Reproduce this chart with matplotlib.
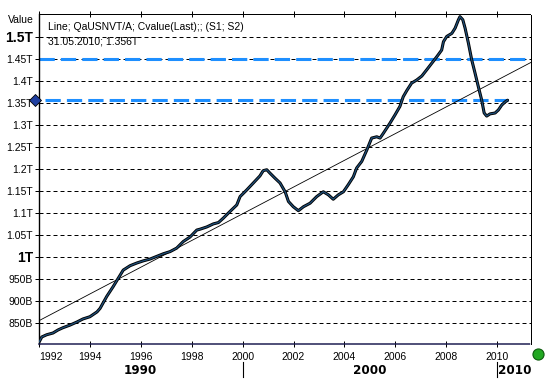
import matplotlib
matplotlib.use("Agg")
import matplotlib.pyplot as plt
import matplotlib.transforms as mtransforms

# ---- data (values in trillions) ----
dates = [1992.01, 1992.11, 1992.30, 1992.55, 1992.75, 1992.94, 1993.22, 1993.49, 1993.73,
         1994.00, 1994.28, 1994.40, 1994.66, 1994.92, 1995.12, 1995.31, 1995.58, 1995.84,
         1996.10, 1996.36, 1996.62, 1996.88, 1997.15, 1997.41, 1997.67, 1997.93, 1998.20,
         1998.33, 1998.59, 1998.85, 1999.05, 1999.24, 1999.50, 1999.77, 1999.90, 2000.16,
         2000.42, 2000.68, 2000.81, 2000.95, 2001.08, 2001.27, 2001.47, 2001.67, 2001.80,
         2001.99, 2002.19, 2002.39, 2002.65, 2002.91, 2003.17, 2003.37, 2003.56, 2003.76,
         2003.96, 2004.15, 2004.35, 2004.48, 2004.68, 2004.88, 2005.07, 2005.27, 2005.40,
         2005.53, 2005.79, 2005.99, 2006.18, 2006.31, 2006.45, 2006.64, 2006.84, 2007.04,
         2007.23, 2007.43, 2007.63, 2007.82, 2007.89, 2008.02, 2008.22, 2008.35, 2008.48,
         2008.54, 2008.65, 2008.74, 2008.87, 2009.00, 2009.13, 2009.26, 2009.39, 2009.49,
         2009.59, 2009.72, 2009.92, 2010.05, 2010.18, 2010.31, 2010.41]
values = [0.807, 0.818, 0.823, 0.827, 0.834, 0.839, 0.845, 0.852, 0.859,
          0.864, 0.875, 0.883, 0.910, 0.933, 0.952, 0.970, 0.980, 0.986,
          0.991, 0.995, 1.001, 1.007, 1.012, 1.020, 1.035, 1.045, 1.061,
          1.063, 1.068, 1.075, 1.078, 1.088, 1.103, 1.118, 1.137, 1.152,
          1.168, 1.184, 1.196, 1.198, 1.190, 1.179, 1.168, 1.148, 1.126,
          1.114, 1.105, 1.114, 1.122, 1.137, 1.148, 1.141, 1.131, 1.141,
          1.148, 1.164, 1.182, 1.202, 1.217, 1.243, 1.270, 1.273, 1.270,
          1.281, 1.304, 1.323, 1.342, 1.364, 1.378, 1.395, 1.402, 1.411,
          1.425, 1.440, 1.455, 1.470, 1.489, 1.501, 1.508, 1.520, 1.539,
          1.546, 1.539, 1.520, 1.486, 1.448, 1.418, 1.387, 1.357, 1.327,
          1.320, 1.325, 1.327, 1.334, 1.345, 1.352, 1.356]

trend_x = [1992.0, 2011.33]
trend_y = [0.855, 1.442]

ref_level = 1.45
last_value = 1.356
last_date = 2010.41

y_ticks = [0.85, 0.90, 0.95, 1.00, 1.05, 1.10, 1.15, 1.20, 1.25, 1.30, 1.35, 1.40, 1.45, 1.50]
y_labels = ['850B', '900B', '950B', '1T', '1.05T', '1.1T', '1.15T', '1.2T', '1.25T',
            '1.3T', '1.35T', '1.4T', '1.45T', '1.5T']
x_ticks = [1992, 1994, 1996, 1998, 2000, 2002, 2004, 2006, 2008, 2010]
x_labels = ['1992', '1994', '1996', '1998', '2000', '2002', '2004', '2006', '2008', '2010']
decades = ['1990', '2000', '2010']
decade_starts = [1992, 2000, 2010]
decade_ends = [2000, 2010, 2011.33]

legend_line1 = "Line; QaUSNVT/A; Cvalue(Last);; (S1; S2)"
legend_line2 = "31.05.2010; 1.356T"

W, H = 548, 385
fig = plt.figure(figsize=(W / 100, H / 100), dpi=100)
fig.patch.set_facecolor('white')
L, R, T, B = 39, 531, 14, 344
ax = fig.add_axes([L / W, 1 - B / H, (R - L) / W, (B - T) / H])
ax.set_xlim(1992.0, 2011.33)
ax.set_ylim(0.802, 1.552)

px = 0.72  # one pixel in points

# grid
for v in y_ticks:
    ax.axhline(v, color='black', lw=px, ls=(0, (4, 3)), zorder=1)

# reference lines
ax.axhline(ref_level, color='#1e8fff', lw=2.2, ls=(0, (5, 2)), zorder=2)
ax.hlines(last_value, ax.get_xlim()[0] + 0.25, last_date, color='#1e8fff', lw=2.2,
          ls=(0, (5, 2)), zorder=2)

# trend line
ax.plot(trend_x, trend_y, color='black', lw=0.6, zorder=3)

# data line
ax.plot(dates, values, color='black', lw=2.2, zorder=4, solid_capstyle='round',
        solid_joinstyle='round')
ax.plot(dates, values, color='#1f4f7a', lw=0.9, zorder=5, solid_joinstyle='round')

# spines
for s in ['top', 'right']:
    ax.spines[s].set_linestyle((0, (1, 1)))
    ax.spines[s].set_linewidth(px)
    ax.spines[s].set_color('black')
ax.spines['bottom'].set_linestyle((0, (1, 1)))
ax.spines['bottom'].set_linewidth(px * 1.5)
ax.spines['bottom'].set_color('#1a1a50')
ax.spines['left'].set_linewidth(1.0)
ax.spines['left'].set_color('black')

# y ticks
ax.set_yticks(y_ticks)
ax.set_yticklabels(y_labels)
ax.tick_params(axis='y', direction='out', length=3, width=px, pad=1.5, labelsize=7.5)
for lab in ax.get_yticklabels():
    lab.set_family('Liberation Sans')
    if lab.get_text() in ('1T', '1.5T'):
        lab.set_fontsize(10)
        lab.set_fontweight('bold')

# x ticks
ax.set_xticks(x_ticks)
ax.set_xticklabels(x_labels)
ax.tick_params(axis='x', direction='inout', length=5, width=px, pad=3, labelsize=7.5,
               top=True)
for i, lab in enumerate(ax.get_xticklabels()):
    lab.set_family('Liberation Sans')
    if i == 0:
        lab.set_horizontalalignment('left')

# decade labels
trans = mtransforms.blended_transform_factory(ax.transData, ax.transAxes)
for name, a, b in zip(decades, decade_starts, decade_ends):
    if name == '2010':
        ax.text(a + 0.05, -0.08, name, transform=trans, ha='left', va='center',
                fontsize=9.5, fontweight='bold', family='DejaVu Sans',
                fontstretch='condensed')
    else:
        ax.text((a + b) / 2, -0.08, name, transform=trans, ha='center', va='center',
                fontsize=9.5, fontweight='bold', family='DejaVu Sans',
                fontstretch='condensed')
for a in decade_starts[1:]:
    ax.plot([a, a], [-0.055, -0.10], transform=trans, color='black', lw=0.8,
            clip_on=False)

# last value marker on axis
ax.plot([-0.008], [last_value], marker='D', ms=6, color='#1f3fa0', mec='black', mew=0.6,
        transform=mtransforms.blended_transform_factory(ax.transAxes, ax.transData),
        clip_on=False, zorder=6)

# green circle
ax.plot([1.014], [-0.03], marker='o', ms=8, color='#22a822', mec='#0d5a0d', mew=0.8,
        transform=ax.transAxes, clip_on=False)

# legend text
ax.text(0.018, 0.961, legend_line1, transform=ax.transAxes, ha='left', va='center',
        fontsize=7.5, family='Liberation Sans')
ax.text(0.018, 0.918, legend_line2, transform=ax.transAxes, ha='left', va='center',
        fontsize=7.5, family='Liberation Sans')

fig.text(34 / W, 1 - 20 / H, 'Value', ha='right', va='center', fontsize=7.5,
         family='Liberation Sans')

fig.savefig('out.png', dpi=100)
